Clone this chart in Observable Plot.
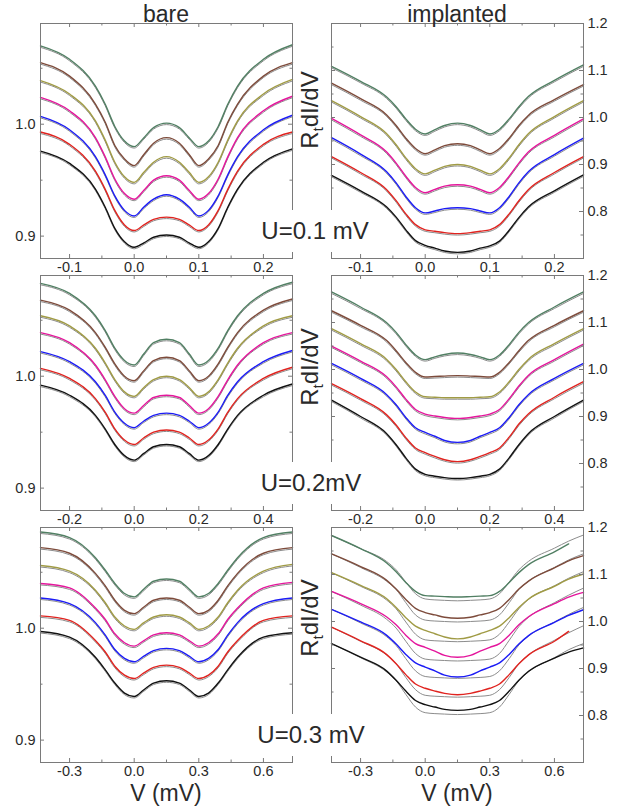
<!DOCTYPE html>
<html><head><meta charset="utf-8">
<script src="https://cdn.jsdelivr.net/npm/d3@7"></script>
<script src="https://cdn.jsdelivr.net/npm/@observablehq/plot@0.6"></script>
<style>
body{margin:0;background:#fff;}
#wrap{position:relative;width:624px;height:810px;font-family:"Liberation Sans",Arial,sans-serif;color:#2a2a2a;overflow:hidden;}
.p{position:absolute;}
.lab{position:absolute;font-size:23px;white-space:nowrap;line-height:1;transform:translate(-50%,-50%);}
.ylab{position:absolute;font-size:24px;white-space:nowrap;line-height:1;transform:translate(-50%,-50%) rotate(-90deg);}
.ylab sub{font-size:0.6em;vertical-align:-0.35em;}
.ulab{position:absolute;font-size:24px;white-space:nowrap;line-height:1;transform:translate(-50%,-50%);background:#fff;padding:9px 3px;}
</style></head><body><div id="wrap"></div>
<script>
// series order: bottom to top
const seriesNames = ["black","red","blue","magenta","olive","brown","green"];
const seriesColors = ["#111111","#e0231f","#1c1cf5","#e4169c","#a09b45","#7d4b3b","#517f63"];
const fitColor = "#8c8c8c";

// bias voltages (mV) per row
const x1 = [-0.145,-0.10,-0.06,-0.045,-0.03,-0.015,0,0.015,0.03,0.05,0.07,0.085,0.10,0.115,0.13,0.145,0.16,0.20,0.245];
const x2 = [-0.29,-0.20,-0.12,-0.09,-0.06,-0.03,0,0.03,0.06,0.10,0.14,0.17,0.20,0.23,0.26,0.29,0.32,0.40,0.49];
const x3 = [-0.435,-0.30,-0.18,-0.135,-0.09,-0.045,0,0.045,0.09,0.15,0.21,0.255,0.30,0.345,0.39,0.435,0.48,0.60,0.735];
const x3i = [-0.435,-0.30,-0.18,-0.135,-0.09,-0.045,0,0.045,0.09,0.15,0.21,0.255,0.30,0.345,0.39,0.435,0.48,0.60,0.666,0.735];

// bare, U = 0.1 mV
const bare1 = [
 [0.976,0.965,0.942,0.926,0.907,0.895,0.890,0.894,0.899,0.901,0.899,0.894,0.890,0.895,0.907,0.926,0.942,0.966,0.978],
 [0.993,0.982,0.958,0.942,0.923,0.910,0.905,0.910,0.915,0.917,0.915,0.910,0.905,0.910,0.923,0.942,0.958,0.982,0.993],
 [1.007,0.995,0.971,0.955,0.936,0.923,0.918,0.926,0.933,0.937,0.933,0.926,0.918,0.923,0.936,0.955,0.971,0.995,1.008],
 [1.024,1.012,0.988,0.971,0.951,0.938,0.933,0.941,0.950,0.954,0.950,0.941,0.933,0.938,0.951,0.971,0.988,1.012,1.025],
 [1.039,1.027,1.003,0.986,0.966,0.953,0.948,0.957,0.966,0.971,0.966,0.957,0.948,0.953,0.966,0.986,1.003,1.027,1.040],
 [1.055,1.043,1.018,1.002,0.981,0.969,0.963,0.973,0.983,0.988,0.983,0.973,0.963,0.969,0.981,1.002,1.018,1.043,1.055],
 [1.070,1.058,1.034,1.018,0.998,0.985,0.980,0.988,0.997,1.001,0.997,0.988,0.980,0.985,0.998,1.018,1.034,1.058,1.071]
];
// bare, U = 0.2 mV
const bare2 = [
 [0.992,0.983,0.965,0.953,0.939,0.929,0.925,0.931,0.937,0.939,0.937,0.931,0.925,0.929,0.939,0.953,0.965,0.983,0.993],
 [1.007,0.998,0.980,0.968,0.953,0.943,0.939,0.945,0.950,0.952,0.950,0.945,0.939,0.943,0.953,0.968,0.980,0.998,1.008],
 [1.022,1.013,0.995,0.983,0.968,0.958,0.954,0.960,0.965,0.967,0.965,0.960,0.954,0.958,0.968,0.983,0.995,1.013,1.023],
 [1.039,1.030,1.010,0.997,0.982,0.971,0.967,0.974,0.981,0.983,0.981,0.974,0.967,0.971,0.982,0.997,1.010,1.030,1.039],
 [1.054,1.045,1.025,1.012,0.997,0.986,0.982,0.990,0.997,1.000,0.997,0.990,0.982,0.986,0.997,1.012,1.025,1.045,1.054],
 [1.068,1.059,1.039,1.026,1.011,1.000,0.996,1.005,1.014,1.017,1.014,1.005,0.996,1.000,1.011,1.026,1.039,1.059,1.069],
 [1.083,1.074,1.054,1.041,1.025,1.014,1.010,1.020,1.030,1.033,1.030,1.020,1.010,1.014,1.025,1.041,1.054,1.074,1.084]
];
// bare, U = 0.3 mV
const bare3 = [
 [0.997,0.992,0.974,0.963,0.951,0.942,0.939,0.945,0.951,0.953,0.951,0.945,0.939,0.942,0.951,0.963,0.974,0.992,0.996],
 [1.011,1.007,0.989,0.979,0.966,0.958,0.955,0.960,0.965,0.967,0.965,0.960,0.955,0.958,0.966,0.979,0.989,1.007,1.011],
 [1.027,1.022,1.005,0.994,0.981,0.973,0.970,0.975,0.980,0.982,0.980,0.975,0.970,0.973,0.981,0.994,1.005,1.022,1.027],
 [1.040,1.036,1.018,1.008,0.995,0.987,0.984,0.989,0.994,0.996,0.994,0.989,0.984,0.987,0.995,1.008,1.018,1.036,1.041],
 [1.056,1.051,1.034,1.023,1.010,1.002,0.999,1.005,1.010,1.012,1.010,1.005,0.999,1.002,1.010,1.023,1.034,1.051,1.057],
 [1.072,1.067,1.049,1.038,1.025,1.016,1.013,1.019,1.025,1.027,1.025,1.019,1.013,1.016,1.025,1.038,1.049,1.067,1.072],
 [1.086,1.081,1.063,1.052,1.040,1.031,1.028,1.035,1.042,1.044,1.042,1.035,1.028,1.031,1.040,1.052,1.063,1.081,1.086]
];
// implanted, U = 0.1 mV
const impl1 = [
 [0.877,0.844,0.810,0.788,0.761,0.738,0.728,0.722,0.716,0.713,0.716,0.722,0.727,0.737,0.760,0.787,0.810,0.844,0.878],
 [0.917,0.883,0.847,0.823,0.795,0.772,0.761,0.758,0.755,0.753,0.755,0.758,0.761,0.772,0.795,0.823,0.847,0.883,0.917],
 [0.957,0.922,0.885,0.861,0.832,0.808,0.797,0.801,0.806,0.808,0.806,0.801,0.797,0.808,0.832,0.861,0.885,0.921,0.956],
 [0.998,0.963,0.927,0.903,0.875,0.851,0.840,0.847,0.854,0.857,0.854,0.847,0.840,0.851,0.875,0.903,0.927,0.962,0.997],
 [1.036,1.002,0.966,0.942,0.914,0.891,0.880,0.888,0.896,0.900,0.896,0.888,0.880,0.891,0.914,0.942,0.966,1.002,1.036],
 [1.073,1.040,1.006,0.983,0.956,0.934,0.923,0.931,0.940,0.944,0.940,0.931,0.923,0.934,0.956,0.983,1.005,1.038,1.070],
 [1.109,1.077,1.044,1.023,0.997,0.975,0.965,0.974,0.983,0.988,0.983,0.974,0.965,0.975,0.997,1.023,1.045,1.079,1.112]
];
// implanted, U = 0.2 mV
const impl2 = [
 [0.935,0.900,0.864,0.840,0.812,0.788,0.777,0.773,0.770,0.768,0.770,0.773,0.777,0.788,0.812,0.840,0.864,0.900,0.935],
 [0.970,0.938,0.904,0.882,0.855,0.833,0.823,0.815,0.808,0.804,0.808,0.815,0.823,0.833,0.856,0.884,0.906,0.941,0.974],
 [1.013,0.981,0.947,0.925,0.898,0.876,0.866,0.858,0.849,0.845,0.849,0.858,0.866,0.876,0.898,0.925,0.947,0.981,1.013],
 [1.050,1.018,0.985,0.963,0.937,0.915,0.905,0.901,0.898,0.896,0.898,0.901,0.905,0.915,0.938,0.965,0.988,1.021,1.054],
 [1.087,1.055,1.022,1.000,0.974,0.952,0.942,0.941,0.940,0.940,0.940,0.941,0.942,0.952,0.974,1.000,1.022,1.055,1.087],
 [1.125,1.094,1.062,1.040,1.015,0.994,0.984,0.985,0.986,0.987,0.986,0.985,0.984,0.994,1.015,1.040,1.062,1.094,1.125],
 [1.165,1.133,1.100,1.079,1.053,1.031,1.021,1.027,1.032,1.035,1.032,1.027,1.021,1.031,1.053,1.079,1.100,1.133,1.165]
];
// implanted, U = 0.3 mV (measured; null = not measured)
const impl3 = [
 [0.953,0.924,0.895,0.875,0.852,0.832,0.823,0.818,0.813,0.811,0.813,0.818,0.823,0.832,0.852,0.875,0.894,0.922,0.935,0.944],
 [0.988,0.959,0.930,0.910,0.887,0.867,0.858,0.852,0.847,0.844,0.847,0.852,0.858,0.867,0.887,0.910,0.929,0.958,0.979,null],
 [1.026,0.999,0.971,0.952,0.930,0.912,0.903,0.895,0.886,0.882,0.886,0.895,0.903,0.912,0.930,0.952,0.970,0.998,1.013,1.025],
 [1.064,1.038,1.010,0.993,0.971,0.953,0.945,0.937,0.928,0.924,0.928,0.937,0.945,0.953,0.971,0.993,1.010,1.038,1.052,1.062],
 [1.104,1.077,1.049,1.030,1.008,0.990,0.981,0.974,0.967,0.963,0.967,0.974,0.981,0.990,1.008,1.030,1.048,1.075,1.090,1.101],
 [1.144,1.117,1.088,1.069,1.047,1.028,1.019,1.014,1.009,1.007,1.009,1.014,1.019,1.028,1.047,1.069,1.086,1.114,1.129,1.140],
 [1.183,1.155,1.125,1.106,1.083,1.064,1.055,1.054,1.053,1.052,1.053,1.054,1.055,1.064,1.083,1.104,1.121,1.148,1.165,null]
];
// implanted, U = 0.3 mV, fits
const impl3fit = [
 [0.953,0.923,0.893,0.874,0.845,0.818,0.806,0.804,0.803,0.802,0.803,0.804,0.806,0.818,0.845,0.874,0.893,0.923,0.940,0.953],
 [0.988,0.958,0.929,0.910,0.881,0.855,0.843,0.841,0.840,0.839,0.840,0.841,0.843,0.855,0.881,0.910,0.929,0.960,0.976,0.991],
 [1.026,0.997,0.968,0.949,0.921,0.895,0.883,0.881,0.880,0.879,0.880,0.881,0.883,0.895,0.921,0.950,0.969,0.999,1.015,1.030],
 [1.064,1.035,1.005,0.986,0.958,0.932,0.920,0.918,0.917,0.916,0.917,0.918,0.920,0.932,0.960,0.989,1.009,1.040,1.056,1.071],
 [1.104,1.075,1.046,1.027,0.999,0.973,0.961,0.959,0.958,0.957,0.958,0.959,0.961,0.973,0.999,1.027,1.047,1.076,1.092,1.106],
 [1.144,1.115,1.086,1.068,1.040,1.014,1.003,1.001,1.000,0.999,1.000,1.001,1.003,1.014,1.040,1.068,1.086,1.115,1.131,1.144],
 [1.183,1.155,1.128,1.110,1.084,1.059,1.048,1.046,1.045,1.044,1.045,1.046,1.048,1.059,1.084,1.110,1.128,1.156,1.171,1.184]
];

// ticks
const xMajor1 = [-0.1,0,0.1,0.2], xMinor1 = [-0.05,0.05,0.15];
const xMajor2 = [-0.2,0,0.2,0.4], xMinor2 = [-0.1,0.1,0.3];
const xMajor3 = [-0.3,0,0.3,0.6], xMinor3 = [-0.15,0.15,0.45];
const yMajorBare = [0.9,1.0], yMinorBare = [0.95,1.05], yLabelsBare = [0.9,1.0];
const yMajorImpl = [0.8,0.9,1.0,1.1,1.2], yMinorImpl = [0.75,0.85,0.95,1.05,1.15], yLabelsImpl = [0.8,0.9,1.0,1.1,1.2];
const xDomain1 = [-0.145,0.245], xDomain2 = [-0.29,0.49], xDomain3 = [-0.435,0.735];
const yDomainBare = [0.88,1.09], yDomainImpl = [0.70,1.20];

const wrap = document.getElementById("wrap");
const frameW = 252, frameH = 235;

function table(xs, vals) {
  return xs.map((x, j) => ({x, y: vals[j]})).filter(d => d.y != null);
}

function panel(o) {
  const left = o.side === "left";
  const mL = left ? 40 : 2, mR = left ? 2 : 40, mT = 2, mB = 22;
  const tc = "#7a7a7a", maj = 4, mnr = 2.5;
  const marks = [];
  o.series.forEach((vals, i) => {
    const fitVals = o.fits ? o.fits[i] : vals;
    marks.push(Plot.line(table(o.xs, fitVals), {x: "x", y: "y", curve: "monotone-x", stroke: fitColor, strokeWidth: 1, dy: o.fits ? 0 : o.fitDy}));
  });
  o.series.forEach((vals, i) => {
    marks.push(Plot.line(table(o.xs, vals), {x: "x", y: "y", curve: "monotone-x", stroke: seriesColors[i], strokeWidth: 1.4}));
  });
  marks.push(Plot.frame({stroke: tc, strokeWidth: 1}));
  for (const [arr, len] of [[o.xMajor, maj], [o.xMinor, mnr]]) {
    marks.push(Plot.ruleX(arr, {x: d => d, insetTop: frameH - len, stroke: tc}));
    marks.push(Plot.ruleX(arr, {x: d => d, insetBottom: frameH - len, stroke: tc}));
  }
  for (const [arr, len] of [[o.yMajor, maj], [o.yMinor, mnr]]) {
    marks.push(Plot.ruleY(arr, {y: d => d, insetRight: frameW - len, stroke: tc}));
    marks.push(Plot.ruleY(arr, {y: d => d, insetLeft: frameW - len, stroke: tc}));
  }
  marks.push(Plot.axisX({ticks: o.xMajor, anchor: "bottom", tickSize: 0, tickPadding: 3, tickFormat: d => d.toFixed(1), label: null}));
  marks.push(Plot.axisY({ticks: o.yLabels, anchor: left ? "left" : "right", tickSize: 0, tickPadding: left ? 5 : 4, tickFormat: d => d.toFixed(1), label: null}));
  const svg = Plot.plot({
    width: mL + frameW + mR, height: mT + frameH + mB,
    marginLeft: mL, marginRight: mR, marginTop: mT, marginBottom: mB,
    x: {domain: o.xDomain, label: null},
    y: {domain: o.yDomain, label: null},
    style: {fontFamily: "'Liberation Sans', Arial, sans-serif", fontSize: "14.5px", color: "#2a2a2a", background: "none", overflow: "visible"},
    marks
  });
  svg.classList.add("p");
  svg.style.position = "absolute";
  svg.style.left = (left ? 0 : 329) + "px";
  svg.style.top = (o.frameTop - mT) + "px";
  wrap.appendChild(svg);
}

const rows = [
  {xs: x1, bare: bare1, impl: impl1, implFit: null, xsi: x1, xMajor: xMajor1, xMinor: xMinor1, xDomain: xDomain1, frameTop: 23},
  {xs: x2, bare: bare2, impl: impl2, implFit: null, xsi: x2, xMajor: xMajor2, xMinor: xMinor2, xDomain: xDomain2, frameTop: 275},
  {xs: x3, bare: bare3, impl: impl3, implFit: impl3fit, xsi: x3i, xMajor: xMajor3, xMinor: xMinor3, xDomain: xDomain3, frameTop: 527}
];
for (const r of rows) {
  panel({side: "left", xs: r.xs, series: r.bare, fits: null, fitDy: 1.5, xMajor: r.xMajor, xMinor: r.xMinor, xDomain: r.xDomain,
    yMajor: yMajorBare, yMinor: yMinorBare, yLabels: yLabelsBare, yDomain: yDomainBare, frameTop: r.frameTop});
  panel({side: "right", xs: r.xsi, series: r.impl, fits: r.implFit, fitDy: 1.5, xMajor: r.xMajor, xMinor: r.xMinor, xDomain: r.xDomain,
    yMajor: yMajorImpl, yMinor: yMinorImpl, yLabels: yLabelsImpl, yDomain: yDomainImpl, frameTop: r.frameTop});
}

function addLabel(cls, html, x, y) {
  const d = document.createElement("div");
  d.className = cls; d.innerHTML = html;
  d.style.left = x + "px"; d.style.top = y + "px";
  wrap.appendChild(d);
}
const columnTitles = ["bare", "implanted"];
const biasLabels = ["U=0.1 mV", "U=0.2mV", "U=0.3 mV"];
const xAxisLabel = "V (mV)";
addLabel("lab", columnTitles[0], 166, 14);
addLabel("lab", columnTitles[1], 457, 14);
addLabel("lab", xAxisLabel, 166, 793);
addLabel("lab", xAxisLabel, 457, 793);
[110, 367, 618].forEach(y => addLabel("ylab", "R<sub>t</sub>dI/dV", 312, y));
[[315, 231], [311, 483], [311, 735]].forEach(([x, y], i) => addLabel("ulab", biasLabels[i], x, y));
</script></body></html>
